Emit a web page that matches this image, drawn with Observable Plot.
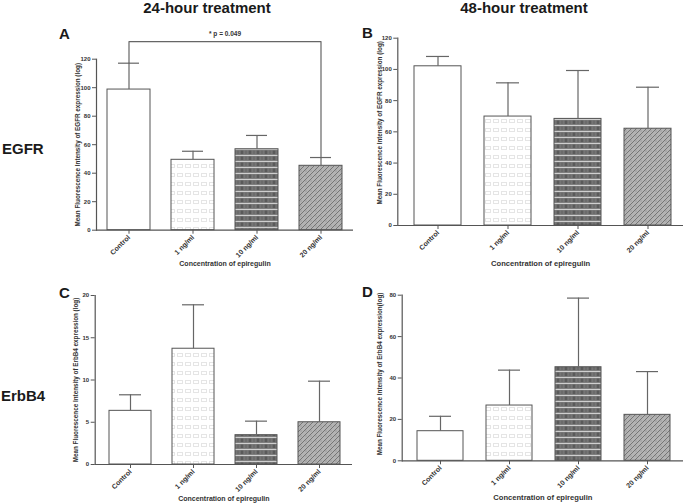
<!DOCTYPE html>
<html><head><meta charset="utf-8">
<script src="https://cdn.jsdelivr.net/npm/d3@7"></script>
<script src="https://cdn.jsdelivr.net/npm/@observablehq/plot@0.6"></script>
<style>
body{margin:0;background:#fff}
#wrap{position:relative;width:685px;height:503px;overflow:hidden;background:#fff;font-family:"Liberation Sans",Arial,sans-serif}
#wrap svg{position:absolute}
</style></head><body><div id="wrap"></div>
<script>
// ---- data ----
const categories = ["Control", "1 ng/ml", "10 ng/ml", "20 ng/ml"];
const egfr24Mean = [98.7, 49.4, 56.8, 45.2];
const egfr24Err = [18.5, 6.0, 9.7, 5.8];
const egfr48Mean = [102.0, 69.8, 68.3, 62.0];
const egfr48Err = [6.3, 21.6, 31.0, 26.6];
const erbb4_24Mean = [6.35, 13.7, 3.47, 5.0];
const erbb4_24Err = [1.9, 5.2, 1.66, 4.86];
const erbb4_48Mean = [14.3, 26.7, 45.2, 22.2];
const erbb4_48Err = [7.2, 17.1, 33.4, 20.9];
const egfrTicks = [0, 20, 40, 60, 80, 100, 120];
const erbb4_24Ticks = [0, 5, 10, 15, 20];
const erbb4_48Ticks = [0, 20, 40, 60, 80];
const columnTitles = ["24-hour treatment", "48-hour treatment"];
const rowTitles = ["EGFR", "ErbB4"];
const panelLetters = ["A", "B", "C", "D"];
const xTitle = "Concentration of epiregulin";
const yTitles = [
  "Mean Fluorescence Intensity of EGFR expression (log)",
  "Mean Fluorescence Intensity of EGFR expression (log)",
  "Mean Fluorescence Intensity of ErbB4 expression (log)",
  "Mean Fluorescence Intensity of ErbB4 expression(log)"
];
const sigLabel = "* p = 0.049";
const sigPair = ["Control", "20 ng/ml"];

// ---- styling ----
const FONT = '"Liberation Sans", Arial, sans-serif';
const fills = {"Control": "#ffffff", "1 ng/ml": "url(#pat1)", "10 ng/ml": "url(#pat10)", "20 ng/ml": "url(#pat20)"};
const wrap = document.getElementById("wrap");

// pattern definitions
const defsSvg = d3.select(wrap).append("svg").attr("width", 0).attr("height", 0).style("left", "0px").style("top", "0px");
const defs = defsSvg.append("defs");
{
  const p = defs.append("pattern").attr("id", "pat1").attr("patternUnits", "userSpaceOnUse").attr("width", 16).attr("height", 9);
  p.append("rect").attr("width", 16).attr("height", 9).attr("fill", "#fff");
  for (const x of [1.5, 9.5]) {
    p.append("rect").attr("x", x).attr("y", 2.5).attr("width", 5).attr("height", 3)
      .attr("fill", "none").attr("stroke", "#bdbdbd").attr("stroke-width", 0.8).attr("stroke-dasharray", "1 1");
  }
}
{
  const p = defs.append("pattern").attr("id", "pat10").attr("patternUnits", "userSpaceOnUse").attr("width", 8).attr("height", 6);
  p.append("rect").attr("width", 8).attr("height", 6).attr("fill", "#7f7f7f");
  p.append("rect").attr("x", 0.5).attr("y", 0.5).attr("width", 3).attr("height", 3.5).attr("fill", "#5a5a5a");
  p.append("rect").attr("x", 4.5).attr("y", 0.5).attr("width", 3).attr("height", 3.5).attr("fill", "#6b6b6b");
  p.append("rect").attr("x", 0).attr("y", 5).attr("width", 8).attr("height", 1).attr("fill", "#cfcfcf");
}
{
  const p = defs.append("pattern").attr("id", "pat20").attr("patternUnits", "userSpaceOnUse").attr("width", 5).attr("height", 5);
  p.append("rect").attr("width", 5).attr("height", 5).attr("fill", "#b3b3b3");
  p.append("path").attr("d", "M-1,6 L6,-1").attr("stroke", "#6e6e6e").attr("stroke-width", 0.9);
  p.append("rect").attr("x", 0.5).attr("y", 0.5).attr("width", 1).attr("height", 1).attr("fill", "#888");
}

function panel(o) {
  const data = categories.map((c, i) => ({cat: c, v: o.means[i], e: o.errs[i]}));
  const yMax = o.ticks[o.ticks.length - 1];
  const chart = Plot.plot({
    width: o.width, height: o.height,
    marginTop: o.mt, marginBottom: o.mb, marginLeft: o.ml, marginRight: o.mr,
    style: {background: "transparent", fontFamily: FONT, fontWeight: "bold", color: "#333", overflow: "visible"},
    x: {domain: categories, paddingInner: 0.33, paddingOuter: o.po, align: o.align},
    y: {domain: [0, yMax]},
    color: {type: "identity"},
    marks: [
      Plot.barY(data, {x: "cat", y: "v", fill: d => fills[d.cat], stroke: "#555", strokeWidth: 1}),
      Plot.ruleX(data, {x: "cat", y1: "v", y2: d => d.v + d.e, stroke: "#666", strokeWidth: 1.2}),
      Plot.tickY(data, {x: "cat", y: d => d.v + d.e, stroke: "#666", strokeWidth: 1.2, insetLeft: o.inset, insetRight: o.inset}),
      Plot.ruleY([0], {stroke: "#555", strokeWidth: 1.2}),
      Plot.frame({anchor: "left", stroke: "#555", strokeWidth: 1.2}),
      Plot.axisY({ticks: o.ticks, tickSize: 4, tickPadding: 2, label: null, fontSize: 6, stroke: "#555", fill: "#333"}),
      Plot.axisX({tickSize: 4, tickPadding: 2, tickRotate: -45, label: null, fontSize: 7, stroke: "#555", fill: "#333"}),
      Plot.text([o.yTitle], {text: d => d, frameAnchor: "left", textAnchor: "middle", lineAnchor: "middle", rotate: -90, dx: o.ytDx, dy: o.ytDy, fontSize: 6.3, fill: "#333"}),
      Plot.text([xTitle], {text: d => d, frameAnchor: "bottom", textAnchor: "middle", lineAnchor: "middle", dy: o.xtDy, fontSize: o.xtSize, fill: "#333"}),
      ...(o.extra ? o.extra(data) : [])
    ]
  });
  chart.style.left = o.left + "px";
  chart.style.top = o.top + "px";
  wrap.append(chart);
}

// A
panel({
  means: egfr24Mean, errs: egfr24Err, ticks: egfrTicks, yTitle: yTitles[0],
  left: 0, top: 0, width: 360, height: 272, mt: 58.7, mb: 42.3, ml: 96, mr: 7,
  po: 0.17, align: 0.48, inset: 11, ytDx: -19, ytDy: 0, xtDy: 34, xtSize: 7,
  extra: data => {
    const a = data.find(d => d.cat === sigPair[0]);
    const b = data.find(d => d.cat === sigPair[1]);
    const level = 132.4;
    return [
      Plot.line([
        {cat: a.cat, y: a.v + a.e}, {cat: a.cat, y: level},
        {cat: b.cat, y: level}, {cat: b.cat, y: b.v + b.e}
      ], {x: "cat", y: "y", stroke: "#666", strokeWidth: 1.2}),
      Plot.text([sigLabel], {text: d => d, frameAnchor: "top", textAnchor: "middle", lineAnchor: "middle", dy: -25.7, fontSize: 6.5, fill: "#333"})
    ];
  }
});
// B
panel({
  means: egfr48Mean, errs: egfr48Err, ticks: egfrTicks, yTitle: yTitles[1],
  left: 340, top: 0, width: 345, height: 272, mt: 37.7, mb: 47, ml: 57.3, mr: 2,
  po: 0.2, align: 0.59, inset: 12, ytDx: -18, ytDy: -9, xtDy: 38, xtSize: 7.6
});
// C
panel({
  means: erbb4_24Mean, errs: erbb4_24Err, ticks: erbb4_24Ticks, yTitle: yTitles[2],
  left: 0, top: 270, width: 360, height: 233, mt: 25, mb: 39, ml: 94.7, mr: 8,
  po: 0.2, align: 0.53, inset: 10, ytDx: -19, ytDy: 0, xtDy: 34, xtSize: 7
});
// D
panel({
  means: erbb4_48Mean, errs: erbb4_48Err, ticks: erbb4_48Ticks, yTitle: yTitles[3],
  left: 340, top: 270, width: 345, height: 233, mt: 24.7, mb: 42.7, ml: 61.7, mr: 2,
  po: 0.18, align: 0.53, inset: 12, ytDx: -22, ytDy: -4, xtDy: 37, xtSize: 7.6
});

// overlay titles
const ov = d3.select(wrap).append("svg").attr("width", 685).attr("height", 503)
  .style("left", "0px").style("top", "0px").style("pointer-events", "none")
  .attr("font-family", FONT).attr("font-weight", "bold").attr("fill", "#1a1a1a");
ov.append("text").attr("x", 207).attr("y", 13).attr("text-anchor", "middle").attr("font-size", 15).text(columnTitles[0]);
ov.append("text").attr("x", 524).attr("y", 13).attr("text-anchor", "middle").attr("font-size", 15).text(columnTitles[1]);
ov.append("text").attr("x", 2).attr("y", 154).attr("font-size", 15).text(rowTitles[0]);
ov.append("text").attr("x", 1).attr("y", 401).attr("font-size", 15).text(rowTitles[1]);
const letterPos = [[59, 39], [362, 38], [59, 298], [362, 297]];
panelLetters.forEach((L, i) => {
  ov.append("text").attr("x", letterPos[i][0]).attr("y", letterPos[i][1]).attr("font-size", 15).text(L);
});
</script>
</body></html>
